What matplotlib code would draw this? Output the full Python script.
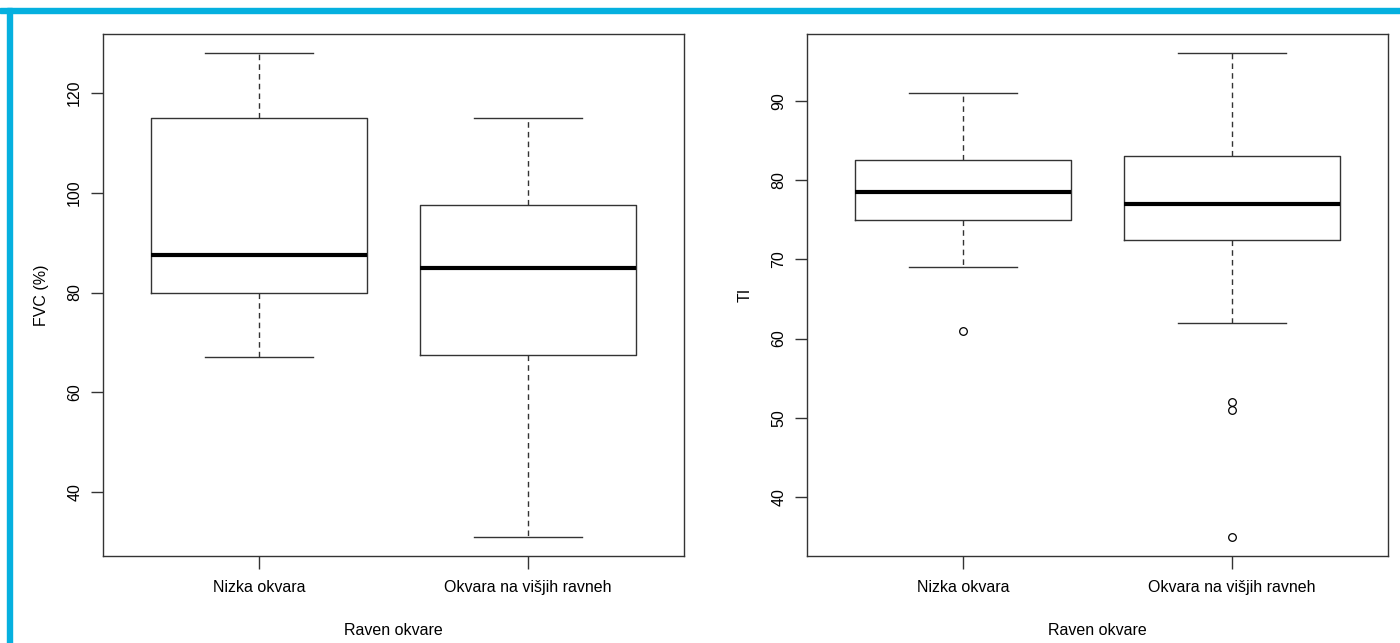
import matplotlib
matplotlib.use("Agg")
import matplotlib.pyplot as plt
from matplotlib.patches import Rectangle

plt.rcParams['font.family'] = ['Liberation Sans', 'DejaVu Sans']

categories = ["Nizka okvara", "Okvara na višjih ravneh"]
xlabel = "Raven okvare"

# FVC (%) panel
fvc_whislo = [67, 31]
fvc_q1 = [80, 67.5]
fvc_med = [87.5, 85]
fvc_q3 = [115, 97.5]
fvc_whishi = [128, 115]
fvc_fliers = [[], []]
fvc_ticks = [40, 60, 80, 100, 120]

# TI panel
ti_whislo = [69, 62]
ti_q1 = [75, 72.5]
ti_med = [78.5, 77]
ti_q3 = [82.5, 83]
ti_whishi = [91, 96]
ti_fliers = [[61], [52, 51, 35]]
ti_ticks = [40, 50, 60, 70, 80, 90]

W, H = 1400, 643
fig = plt.figure(figsize=(W / 100, H / 100), dpi=100)

# blue frame (top and left)
fig.patches.append(Rectangle((0, 1 - 13 / H), 1, 5 / H, transform=fig.transFigure,
                             color='#05b0df', zorder=10))
fig.patches.append(Rectangle((7 / W, 0), 5 / W, 1 - 8 / H, transform=fig.transFigure,
                             color='#05b0df', zorder=10))

FS = 11.5

def panel(rect, whislo, q1, med, q3, whishi, fliers, ticks, ylabel):
    ax = fig.add_axes(rect)
    stats = []
    for i in range(len(categories)):
        stats.append(dict(whislo=whislo[i], q1=q1[i], med=med[i], q3=q3[i],
                          whishi=whishi[i], fliers=fliers[i], label=categories[i]))
    ax.bxp(stats, positions=[1, 2], widths=0.8, showfliers=True,
           boxprops=dict(color='#333333', linewidth=1.0),
           medianprops=dict(color='black', linewidth=3.0, solid_capstyle='butt'),
           whiskerprops=dict(color='#333333', linewidth=1.0, linestyle=(0, (4, 3))),
           capprops=dict(color='#333333', linewidth=1.0),
           capwidths=0.4,
           flierprops=dict(marker='o', markersize=5.5, markerfacecolor='none',
                           markeredgecolor='black', markeredgewidth=0.9, linestyle='none'))
    allv = list(whislo) + list(whishi) + [v for f in fliers for v in f]
    lo, hi = min(allv), max(allv)
    r = hi - lo
    ax.set_ylim(lo - 0.04 * r, hi + 0.04 * r)
    ax.set_xlim(0.5 - 0.08, 2.5 + 0.08)
    ax.set_yticks(ticks)
    ax.set_yticklabels([str(t) for t in ticks], rotation=90, va='center')
    ax.set_xticks([1, 2])
    ax.set_xticklabels(categories)
    ax.tick_params(axis='both', direction='out', length=9, width=1.0, color='#333333',
                   labelsize=FS, labelcolor='black')
    ax.tick_params(axis='y', pad=6)
    ax.tick_params(axis='x', pad=8.5)
    for s in ax.spines.values():
        s.set_linewidth(1.0)
        s.set_color('#333333')
    ax.set_ylabel(ylabel, fontsize=FS, labelpad=13)
    ax.set_xlabel(xlabel, fontsize=FS, labelpad=20)
    return ax

bottom = (H - 556) / H
height = (556 - 34) / H
panel([103 / W, bottom, 581 / W, height], fvc_whislo, fvc_q1, fvc_med, fvc_q3,
      fvc_whishi, fvc_fliers, fvc_ticks, "FVC (%)")
panel([807 / W, bottom, 581 / W, height], ti_whislo, ti_q1, ti_med, ti_q3,
      ti_whishi, ti_fliers, ti_ticks, "TI")

fig.savefig("out.png", dpi=100)
